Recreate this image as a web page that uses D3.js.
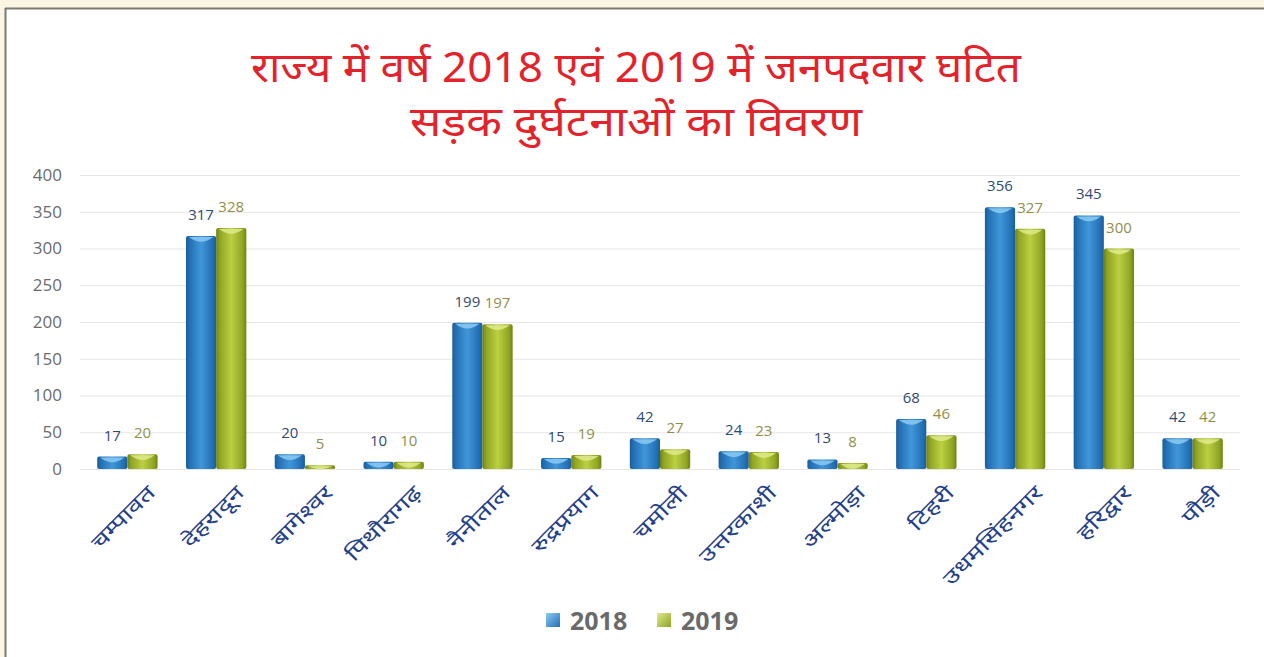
<!DOCTYPE html>
<html>
<head>
<meta charset="utf-8">
<script src="https://cdn.jsdelivr.net/npm/d3@7"></script>
<style>
  html, body { margin: 0; padding: 0; background: #fbf6e4; }
  svg { display: block; }
</style>
</head>
<body>
<svg id="chart" width="1264" height="657"></svg>
<script>
// District-wise road accidents, 2018 vs 2019
const districts = ["चम्पावत", "देहरादून", "बागेश्वर", "पिथौरागढ़", "नैनीताल", "रुद्रप्रयाग", "चमोली",
  "उत्तरकाशी", "अल्मोड़ा", "टिहरी", "उधमसिंहनगर", "हरिद्वार", "पौड़ी"];
const accidents2018 = [17, 317, 20, 10, 199, 15, 42, 24, 13, 68, 356, 345, 42];
const accidents2019 = [20, 328, 5, 10, 197, 19, 27, 23, 8, 46, 327, 300, 42];
const years = ["2018", "2019"];
const yTicks = [0, 50, 100, 150, 200, 250, 300, 350, 400];
const titleLines = ["राज्य में वर्ष 2018 एवं 2019 में जनपदवार घटित", "सड़क दुर्घटनाओं का विवरण"];

const svg = d3.select("#chart");
const W = 1264, H = 657;

// page frame
svg.append("rect").attr("x", 0).attr("y", 0).attr("width", W).attr("height", H).attr("fill", "#fbf6e4");
svg.append("rect").attr("x", 6).attr("y", 9).attr("width", W - 6).attr("height", H - 9).attr("fill", "#ffffff");
svg.append("line").attr("x1", 5).attr("x2", W).attr("y1", 8.5).attr("y2", 8.5).attr("stroke", "#7a7a72").attr("stroke-width", 2);
svg.append("line").attr("x1", 5.5).attr("x2", 5.5).attr("y1", 8).attr("y2", H).attr("stroke", "#7a7a72").attr("stroke-width", 2);

// title
const title = svg.append("g").attr("font-family", "'Noto Sans', sans-serif").attr("fill", "#e3232b")
  .attr("text-anchor", "middle").attr("font-size", 41);
const titleWidths = [770, 452];
titleLines.forEach((t, i) => {
  title.append("text").attr("x", 636).attr("y", 82 + i * 54)
    .attr("textLength", titleWidths[i]).attr("lengthAdjust", "spacingAndGlyphs")
    .text(t);
});

const margin = { left: 83, right: 1237, top: 175, bottom: 469 };
const x = d3.scaleBand().domain(districts).range([margin.left, margin.right]).paddingInner(0.32).paddingOuter(0.16);
const xs = d3.scaleBand().domain(years).range([0, x.bandwidth()]);
const y = d3.scaleLinear().domain([0, 400]).range([margin.bottom, margin.top]);

// gridlines
svg.append("g").selectAll("line").data(yTicks).join("line")
  .attr("x1", 80).attr("x2", 1240)
  .attr("y1", d => y(d) + 0.5).attr("y2", d => y(d) + 0.5)
  .attr("stroke", "#e6e6e6").attr("stroke-width", 1.2);

// y axis labels
const yAxis = d3.axisLeft(y).tickValues(yTicks).tickSize(0).tickPadding(0);
const gy = svg.append("g").attr("transform", "translate(62,0)").call(yAxis);
gy.select(".domain").remove();
gy.selectAll("text").attr("font-family", "'Open Sans', sans-serif").attr("font-size", 17).attr("fill", "#6b6b6b");

// gradients
const defs = svg.append("defs");
const palette = {
  "2018": { edge: "#2370b4", mid: "#4196da", light: "#8ccaf2", dark: "#1b5d98" },
  "2019": { edge: "#8fa423", mid: "#bcd042", light: "#e0ea8c", dark: "#6f8114" }
};
years.forEach(k => {
  const g = defs.append("linearGradient").attr("id", "grad" + k).attr("x1", "0").attr("x2", "1").attr("y1", "0").attr("y2", "0");
  g.append("stop").attr("offset", "0%").attr("stop-color", palette[k].dark);
  g.append("stop").attr("offset", "12%").attr("stop-color", palette[k].edge);
  g.append("stop").attr("offset", "50%").attr("stop-color", palette[k].mid);
  g.append("stop").attr("offset", "88%").attr("stop-color", palette[k].edge);
  g.append("stop").attr("offset", "100%").attr("stop-color", palette[k].dark);
  const s = defs.append("linearGradient").attr("id", "sw" + k).attr("x1", "0").attr("x2", "1").attr("y1", "0").attr("y2", "1");
  s.append("stop").attr("offset", "0%").attr("stop-color", palette[k].light);
  s.append("stop").attr("offset", "100%").attr("stop-color", palette[k].edge);
});

const rows = districts.map((d, i) => ({ d, v: { "2018": accidents2018[i], "2019": accidents2019[i] } }));
const bw = xs.bandwidth();

const groups = svg.append("g").selectAll("g").data(rows).join("g")
  .attr("transform", r => `translate(${x(r.d)},0)`);

years.forEach(k => {
  const bars = groups.append("g");
  bars.append("rect")
    .attr("x", xs(k)).attr("width", bw)
    .attr("y", r => y(r.v[k])).attr("height", r => y(0) - y(r.v[k]))
    .attr("rx", 2)
    .attr("fill", `url(#grad${k})`);
  // rounded top highlight
  bars.append("path")
    .attr("d", r => {
      const top = y(r.v[k]);
      const h = Math.min(6, y(0) - top);
      const x0 = xs(k) + 3, x1 = xs(k) + bw - 3;
      return `M${x0},${top + 1} Q${(x0 + x1) / 2},${top + 1 + h * 1.6} ${x1},${top + 1} Z`;
    })
    .attr("fill", palette[k].light).attr("opacity", 0.85);
  // value labels
  groups.append("text")
    .attr("x", xs(k) + bw / 2)
    .attr("y", r => y(r.v[k]) - 16)
    .attr("text-anchor", "middle")
    .attr("font-family", "'Open Sans', sans-serif").attr("font-size", 15)
    .attr("fill", k === "2018" ? "#2f4b72" : "#8f8f4a")
    .text(r => r.v[k]);
});

// category labels, slanted and slightly widened
const catLabels = svg.append("g").selectAll("g").data(districts).join("g")
  .attr("transform", d => `translate(${x(d) + x.bandwidth() / 2 + 24},${y(0) + 20}) rotate(-45) scale(1.38,1)`);
catLabels.append("text")
  .attr("text-anchor", "end")
  .attr("dy", "0.35em")
  .attr("font-family", "'Noto Sans', sans-serif").attr("font-size", 20).attr("fill", "#24408a")
  .text(d => d);

// legend
const legend = svg.append("g").attr("font-family", "'Open Sans', sans-serif").attr("font-weight", "bold")
  .attr("font-size", 25).attr("fill", "#6a6a6a");
const legendX = [546, 657];
years.forEach((k, i) => {
  legend.append("rect").attr("x", legendX[i]).attr("y", 613).attr("width", 14).attr("height", 14)
    .attr("fill", `url(#sw${k})`);
  legend.append("text").attr("x", legendX[i] + 24).attr("y", 630).text(k);
});
</script>
</body>
</html>
